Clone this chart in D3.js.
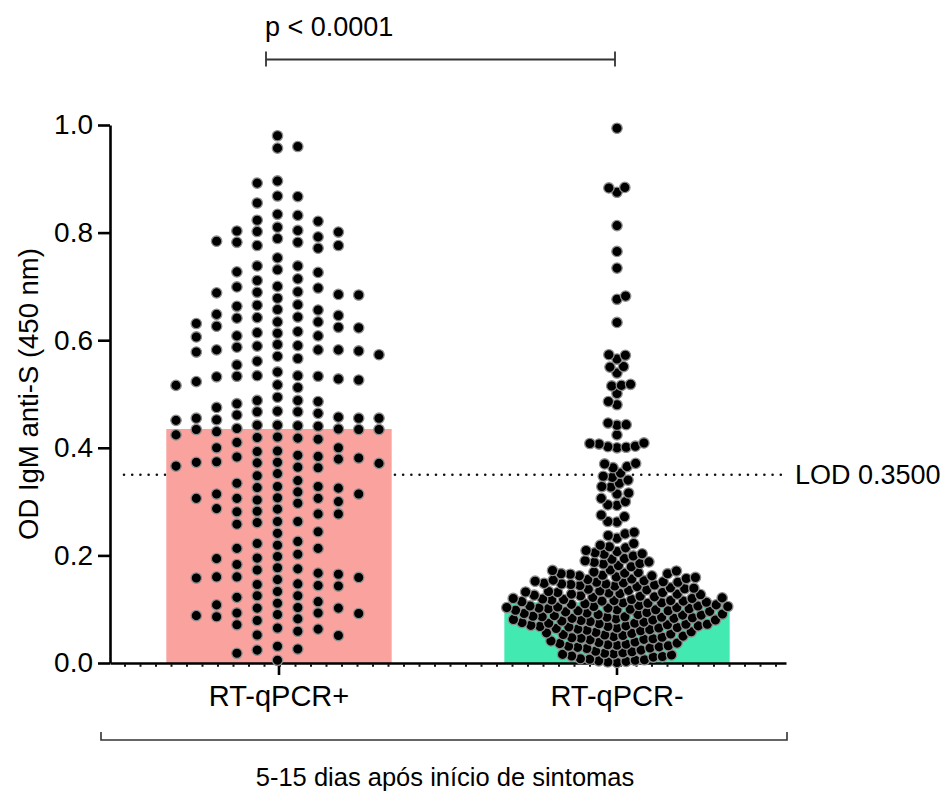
<!DOCTYPE html>
<html><head><meta charset="utf-8">
<script src="https://cdn.jsdelivr.net/npm/d3@7"></script>
<style>body{margin:0;background:#fff} text{font-family:"Liberation Sans", Arial, sans-serif;fill:#000}</style>
</head><body><svg id="chart" width="945" height="792"></svg>
<script>
const categories = ["RT-qPCR+", "RT-qPCR-"];
const barMeans = [0.435, 0.113];
const yTicks = [0, 0.2, 0.4, 0.6, 0.8, 1.0];
const lodValue = 0.35;
const lodLabel = "LOD 0.3500";
const pLabel = "p < 0.0001";
const yLabel = "OD IgM anti-S (450 nm)";
const groupLabel = "5-15 dias após início de sintomas";

const positiveValues = [
  0.475,0.455,0.434,0.400,0.379,
  0.697,0.642,0.582,0.534,0.455,0.434,0.393,0.373,0.314,0.159,0.103,0.079,
  0.804,0.782,0.700,0.666,0.623,0.606,0.582,0.533,0.452,0.424,0.364,0.328,0.306,0.286,0.160,0.133,0.111,0.088,
  0.855,0.834,0.810,0.789,0.753,0.727,0.699,0.678,0.646,0.626,0.580,0.561,0.533,0.482,0.457,0.435,0.416,0.394,0.371,0.328,0.306,0.282,0.261,0.226,0.160,0.102,0.063,
  0.957,0.892,0.832,0.792,0.771,0.738,0.684,0.663,0.643,0.624,0.608,0.589,0.573,0.554,0.523,0.516,0.488,0.467,0.441,0.418,0.373,0.352,0.318,0.297,0.277,0.244,0.213,0.195,0.177,0.158,0.143,0.125,0.090,0.071,0.052,0.024,0.005,
  0.960,0.868,0.821,0.801,0.776,0.731,0.711,0.685,0.657,0.634,0.608,0.582,0.528,0.488,0.467,0.442,0.420,0.381,0.339,0.307,0.287,0.263,0.213,0.194,0.175,0.155,0.122,0.093,0.051,0.031,
  0.980,0.896,0.867,0.823,0.802,0.776,0.738,0.690,0.665,0.634,0.614,0.587,0.566,0.526,0.464,0.440,0.419,0.372,0.348,0.326,0.303,0.277,0.258,0.219,0.198,0.167,0.146,0.125,0.102,0.082,0.059,0.018,
  0.803,0.782,0.726,0.648,0.613,0.590,0.570,0.532,0.512,0.486,0.451,0.430,0.410,0.383,0.325,0.306,0.263,0.241,0.222,0.202,0.183,0.147,0.114,0.092,0.065,0.026,
  0.784,0.714,0.688,0.641,0.616,0.592,0.541,0.517,0.494,0.461,0.436,0.400,0.374,0.334,0.300,0.281,0.165,0.144,0.108,0.086,
  0.689,0.656,0.631,0.578,0.534,0.468,0.442,0.384,0.363,0.314,0.173,0.093,
  0.455,0.434,0.386,0.366
];

const negativeValues = [
  0.994,0.884,0.883,0.875,0.813,0.765,0.734,0.682,0.676,0.633,
  0.573,0.572,0.565,0.551,0.550,0.539,0.518,0.516,0.515,0.501,0.486,0.480,
  0.446,0.443,0.442,0.424,0.409,0.408,0.407,0.403,0.402,0.401,0.400,
  0.371,0.370,0.365,0.363,0.353,0.347,0.345,0.340,0.334,0.328,0.327,0.316,0.314,
  0.306,0.300,0.294,0.293,0.275,0.272,0.263,0.262,
  0.243,0.240,0.237,0.232,0.222,0.219,0.216,0.214,
  0.209,0.207,0.205,0.203,0.202,0.199,
  0.194,0.193,0.190,0.188,0.187,0.185,0.184,0.181,0.179,
  0.173,0.172,0.171,0.169,0.168,0.167,0.166,0.166,0.165,0.163,0.162,0.162,0.160,0.159,
  0.157,0.156,0.155,0.154,0.153,0.152,0.151,0.150,0.150,0.149,0.148,0.147,0.147,0.146,0.145,0.144,0.143,0.142,
  0.140,0.139,0.138,0.137,0.136,0.135,0.134,0.133,0.132,0.131,0.131,0.130,0.129,0.128,0.128,0.127,0.126,0.125,0.124,
  0.123,0.122,0.121,0.120,0.120,0.119,0.118,0.118,0.117,0.116,0.116,0.115,0.115,0.114,0.113,0.112,0.112,0.111,0.110,0.109,0.108,
  0.107,0.106,0.106,0.105,0.105,0.104,0.103,0.103,0.102,0.102,0.101,0.101,0.100,0.099,0.099,0.098,0.097,0.097,0.096,0.095,0.094,0.093,
  0.092,0.091,0.090,0.090,0.089,0.089,0.088,0.087,0.086,0.086,0.085,0.085,0.084,0.083,0.083,0.082,0.081,0.080,0.080,0.079,0.078,0.077,0.076,
  0.075,0.074,0.074,0.073,0.072,0.072,0.071,0.070,0.069,0.069,0.068,0.068,0.067,0.066,0.065,0.065,0.064,0.063,0.062,0.061,0.060,
  0.058,0.057,0.056,0.055,0.054,0.053,0.052,0.051,0.050,0.049,0.048,0.047,0.046,0.045,0.044,0.043,
  0.041,0.039,0.038,0.037,0.036,0.035,0.034,0.033,0.032,0.031,0.030,0.029,0.028,0.027,
  0.024,0.022,0.021,0.019,0.018,0.017,0.016,0.015,0.013,0.012,0.011,
  0.008,0.007,0.006,0.005,0.004,0.003,0.002,0.001
];

const svg = d3.select("#chart");
const FONT = "'Liberation Sans', Arial, sans-serif";
const y = d3.scaleLinear().domain([0, 1]).range([663, 125]);
const x = d3.scaleBand().domain(categories).range([110, 786]).paddingInner(1/3).paddingOuter(1/6);
const cx = c => x(c) + x.bandwidth() / 2;
const colors = ["#f9a29e", "#42eab1"];
const R = 5.2;

// dotted LOD line
svg.append("line").attr("x1", 124).attr("x2", 781).attr("y1", y(lodValue)).attr("y2", y(lodValue))
  .attr("stroke", "#111").attr("stroke-width", 2.6).attr("stroke-linecap", "round").attr("stroke-dasharray", "0.01 8.2");

// bars
svg.selectAll("rect.bar").data(categories).join("rect").attr("class", "bar")
  .attr("x", d => x(d)).attr("width", x.bandwidth())
  .attr("y", (d, i) => y(barMeans[i])).attr("height", (d, i) => y(0) - y(barMeans[i]))
  .attr("fill", (d, i) => colors[i]);

// axes
const yAxis = svg.append("g").attr("transform", "translate(110,0)")
  .call(d3.axisLeft(y).tickValues(yTicks).tickFormat(d3.format(".1f")).tickSize(12).tickSizeOuter(0).tickPadding(5));
yAxis.select(".domain").attr("stroke-width", 2.6);
yAxis.selectAll(".tick line").attr("stroke-width", 2.6);
yAxis.selectAll(".tick text").attr("font-size", 28).style("font-family", FONT);

const xAxis = svg.append("g").attr("transform", "translate(0,663)")
  .call(d3.axisBottom(x).tickSize(12).tickSizeOuter(0).tickPadding(10));
xAxis.select(".domain").attr("stroke-width", 2.6);
xAxis.selectAll(".tick line").attr("stroke-width", 2.6);
xAxis.selectAll(".tick text").attr("font-size", 29).style("font-family", FONT);

// minor dotted baseline
svg.append("line").attr("x1", 124).attr("x2", 781).attr("y1", 665.5).attr("y2", 665.5)
  .attr("stroke", "#111").attr("stroke-width", 2.4).attr("stroke-dasharray", "2 13.5");

// LOD label
svg.append("text").attr("x", 795).attr("y", y(lodValue)).attr("dy", "0.35em").attr("font-size", 27).text(lodLabel);

// y label
svg.append("text").attr("transform", "translate(38," + ((y(0) + y(1)) / 2) + ") rotate(-90)")
  .attr("text-anchor", "middle").attr("font-size", 27.5).text(yLabel);

// p bracket
const bx1 = 266, bx2 = 615, by = 59.5;
svg.append("path").attr("d", `M${bx1},${by-8}V${by+7}M${bx1},${by}H${bx2}M${bx2},${by-8}V${by+7}`)
  .attr("fill", "none").attr("stroke", "#333").attr("stroke-width", 1.8);
svg.append("text").attr("x", bx1 - 1).attr("y", 36).attr("font-size", 27).text(pLabel);

// group bracket
const gy = 740;
svg.append("path").attr("d", `M101,${gy-8}V${gy}H787V${gy-8}`)
  .attr("fill", "none").attr("stroke", "#333").attr("stroke-width", 1.6);
svg.append("text").attr("x", 445).attr("y", 786).attr("text-anchor", "middle").attr("font-size", 25.5).text(groupLabel);

// swarm layouts
function slotSwarm(values, spacing, minGap, maxK) {
  const pts = values.map(v => ({ v, y: y(v) })).sort((a, b) => a.y - b.y);
  const slots = new Map();
  const gapIn = (k, yy) => d3.min(slots.get(k) || [], s => Math.abs(s - yy)) ?? Infinity;
  pts.forEach(p => {
    let chosen = null;
    for (let m = 0; m <= maxK && chosen === null; m++) {
      let cands = m === 0 ? [0] : [m, -m];
      if (m > 0) cands.sort((a, b) => (slots.get(a) || []).length - (slots.get(b) || []).length);
      for (const k of cands) { if (gapIn(k, p.y) >= minGap) { chosen = k; break; } }
    }
    if (chosen === null) {
      let best = -1;
      for (let k = -maxK; k <= maxK; k++) { const g = gapIn(k, p.y); if (g > best) { best = g; chosen = k; } }
    }
    const list = slots.get(chosen) || []; list.push(p.y); slots.set(chosen, list);
    p.dx = chosen * spacing;
  });
  return pts;
}
function swarm(values, d) {
  const pts = values.map(v => ({ v, y: y(v) })).sort((a, b) => b.y - a.y);
  const placed = [];
  pts.forEach((p, i) => {
    const near = placed.filter(q => Math.abs(q.y - p.y) < d);
    const cands = [0];
    near.forEach(q => { const h = Math.sqrt(d * d - (q.y - p.y) ** 2); cands.push(q.dx + h, q.dx - h); });
    const sgn = i % 2 ? 1 : -1;
    cands.sort((a, b) => (Math.abs(a) - Math.abs(b)) || (sgn * (a - b)));
    for (const c of cands) {
      if (near.every(q => (q.dx - c) ** 2 + (q.y - p.y) ** 2 >= d * d - 1e-6)) { p.dx = c; break; }
    }
    placed.push(p);
  });
  return pts;
}

const posPts = slotSwarm(positiveValues, 20.3, 10.8, 5).map(p => ({ ...p, cx: cx(categories[0]) - 1.5 + p.dx }));
const negPts = swarm(negativeValues, 9.2).map(p => ({ ...p, cx: cx(categories[1]) + p.dx }));

svg.append("g").selectAll("circle").data(posPts.concat(negPts)).join("circle")
  .attr("cx", d => d.cx).attr("cy", d => d.y).attr("r", R)
  .attr("fill", "#000").attr("stroke", "#8f8f8f").attr("stroke-width", 1.3);
</script></body></html>
